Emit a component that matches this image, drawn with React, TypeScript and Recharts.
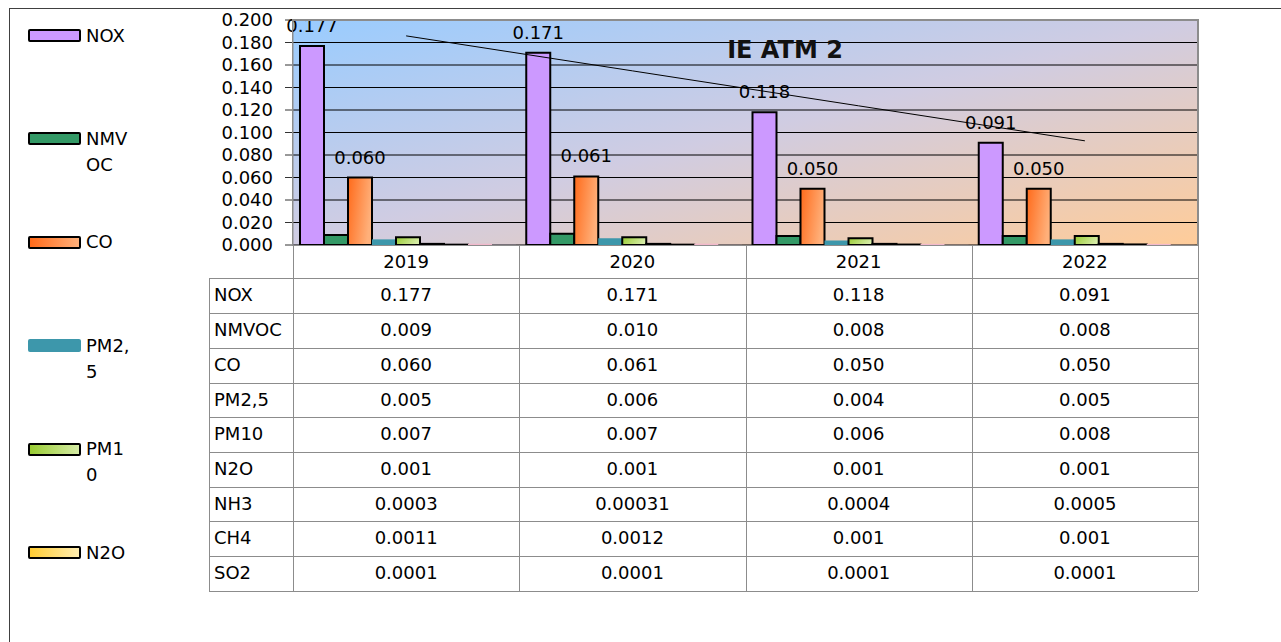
import { ComposedChart, Bar, Line, XAxis, YAxis, CartesianGrid, LabelList } from 'recharts';

// values
const years = ['2019', '2020', '2021', '2022'];
const nox = [0.177, 0.171, 0.118, 0.091];
const nmvoc = [0.009, 0.01, 0.008, 0.008];
const co = [0.06, 0.061, 0.05, 0.05];
const pm25 = [0.005, 0.006, 0.004, 0.005];
const pm10 = [0.007, 0.007, 0.006, 0.008];
const n2o = [0.001, 0.001, 0.001, 0.001];
const nh3 = [0.0003, 0.00031, 0.0004, 0.0005];
const ch4 = [0.0011, 0.0012, 0.001, 0.001];
const so2 = [0.0001, 0.0001, 0.0001, 0.0001];

const yTicks = [0, 0.02, 0.04, 0.06, 0.08, 0.1, 0.12, 0.14, 0.16, 0.18, 0.2];

// name, values, fixed decimals in the table (null = general format)
const rows: { name: string; values: number[]; fixed: number | null }[] = [
  { name: 'NOX', values: nox, fixed: 3 },
  { name: 'NMVOC', values: nmvoc, fixed: 3 },
  { name: 'CO', values: co, fixed: 3 },
  { name: 'PM2,5', values: pm25, fixed: 3 },
  { name: 'PM10', values: pm10, fixed: 3 },
  { name: 'N2O', values: n2o, fixed: 3 },
  { name: 'NH3', values: nh3, fixed: null },
  { name: 'CH4', values: ch4, fixed: null },
  { name: 'SO2', values: so2, fixed: null },
];

const legendNames = ['NOX', 'NMVOC', 'CO', 'PM2,5', 'PM10', 'N2O'];

const styles: Record<string, { fill: string; stroke?: string; swatch: string }> = {
  NOX: { fill: '#CC99FF', stroke: '#000', swatch: '#CC99FF' },
  NMVOC: { fill: '#339966', stroke: '#000', swatch: '#339966' },
  CO: { fill: 'url(#gCO)', stroke: '#000', swatch: 'linear-gradient(90deg,#FF6A1A,#FFB07A)' },
  'PM2,5': { fill: '#3D97AB', swatch: '#3D97AB' },
  PM10: { fill: 'url(#gPM10)', stroke: '#000', swatch: 'linear-gradient(90deg,#99CC33,#D6ECA6)' },
  N2O: { fill: 'url(#gN2O)', stroke: '#000', swatch: 'linear-gradient(90deg,#FFCC33,#FFEDB0)' },
  NH3: { fill: '#993366', stroke: '#000', swatch: '#993366' },
  CH4: { fill: '#F2B8CC', swatch: '#F2B8CC' },
  SO2: { fill: '#CCCCFF', swatch: '#CCCCFF' },
};

// least squares trend of NOX, like the spreadsheet trendline
function linearTrend(vals: number[]) {
  const n = vals.length;
  const mx = (n + 1) / 2;
  const my = vals.reduce((a, b) => a + b, 0) / n;
  let num = 0;
  let den = 0;
  vals.forEach((v, i) => {
    num += (i + 1 - mx) * (v - my);
    den += (i + 1 - mx) ** 2;
  });
  const slope = num / den;
  return vals.map((_, i) => my + slope * (i + 1 - mx));
}

const trend = linearTrend(nox);

const data = years.map((year, i) => {
  const d: Record<string, number | string> = { year, trend: trend[i] };
  rows.forEach((r) => (d[r.name] = r.values[i]));
  return d;
});

const fmt = (v: number, fixed: number | null) => (fixed === null ? String(v) : v.toFixed(fixed));

const FONT = '"DejaVu Sans", Verdana, sans-serif';
const W = 1281;
const H = 642;
const PLOT_L = 293;
const PLOT_R = 1198;
const PLOT_T = 20;
const PLOT_B = 245;
const TABLE_L = 209;
const HEAD_B = 278.3;
const ROW_H = 34.74;
const GRID = '#8c8c8c';

function DataTable() {
  const colW = (PLOT_R - PLOT_L) / years.length;
  const bottom = HEAD_B + rows.length * ROW_H;
  const lines: JSX.Element[] = [];
  for (let r = 0; r <= rows.length; r++) {
    const y = HEAD_B + r * ROW_H;
    lines.push(
      <div key={'h' + r} style={{ position: 'absolute', left: TABLE_L, top: y, width: PLOT_R - TABLE_L, height: 1, background: GRID }} />
    );
  }
  lines.push(
    <div key="vl" style={{ position: 'absolute', left: TABLE_L, top: HEAD_B, width: 1, height: bottom - HEAD_B, background: GRID }} />
  );
  for (let c = 0; c <= years.length; c++) {
    lines.push(
      <div key={'v' + c} style={{ position: 'absolute', left: PLOT_L + c * colW, top: PLOT_B, width: 1, height: bottom - PLOT_B, background: GRID }} />
    );
  }
  const cell = (left: number, top: number, width: number, height: number, align: 'left' | 'center') => ({
    position: 'absolute' as const,
    left,
    top,
    width,
    height,
    lineHeight: height + 'px',
    textAlign: align,
    fontSize: 18,
    color: '#000',
    paddingLeft: align === 'left' ? 5 : 0,
    boxSizing: 'border-box' as const,
    whiteSpace: 'nowrap' as const,
  });
  return (
    <>
      {lines}
      {years.map((y, c) => (
        <div key={'y' + y} style={cell(PLOT_L + c * colW, PLOT_B, colW, HEAD_B - PLOT_B, 'center')}>
          {y}
        </div>
      ))}
      {rows.map((r, ri) => (
        <div key={'r' + r.name}>
          <div style={cell(TABLE_L, HEAD_B + ri * ROW_H, PLOT_L - TABLE_L, ROW_H, 'left')}>{r.name}</div>
          {r.values.map((v, c) => (
            <div key={c} style={cell(PLOT_L + c * colW, HEAD_B + ri * ROW_H, colW, ROW_H, 'center')}>
              {fmt(v, r.fixed)}
            </div>
          ))}
        </div>
      ))}
    </>
  );
}

function SideLegend() {
  const lh = 26;
  return (
    <>
      {legendNames.map((name, i) => {
        const cy = 35.5 + i * 103.4;
        const st = styles[name];
        return (
          <div key={name}>
            <div
              style={{
                position: 'absolute',
                left: 28,
                top: cy - 6.5,
                width: 53,
                height: 13,
                background: st.swatch,
                border: st.stroke ? '2px solid #000' : 'none',
                borderRadius: 2,
                boxSizing: 'border-box',
              }}
            />
            <div
              style={{
                position: 'absolute',
                left: 86,
                top: cy - lh / 2,
                width: 46,
                fontSize: 18,
                lineHeight: lh + 'px',
                wordBreak: 'break-all',
                color: '#000',
              }}
            >
              {name}
            </div>
          </div>
        );
      })}
    </>
  );
}

export default function App() {
  return (
    <div style={{ position: 'absolute', left: 0, top: 0, width: W, height: H, overflow: 'hidden', background: '#fff', fontFamily: FONT }}>
      <div style={{ position: 'absolute', left: 9, top: 8, width: W, height: H, borderLeft: '1px solid #404040', borderTop: '1px solid #404040' }} />
      <SideLegend />
      <DataTable />
      <ComposedChart
        width={W}
        height={H}
        data={data}
        margin={{ top: PLOT_T, right: W - PLOT_R, bottom: H - PLOT_B, left: 0 }}
        barCategoryGap={7}
        barGap={0}
        style={{ position: 'absolute', left: 0, top: 0 }}
      >
        <defs>
          <linearGradient id="gBg" x1="0" y1="0" x2="1" y2="1">
            <stop offset="0%" stopColor="#99CCFF" />
            <stop offset="50%" stopColor="#D0CCE2" />
            <stop offset="100%" stopColor="#FFCC99" />
          </linearGradient>
          <linearGradient id="gCO" x1="0" y1="0" x2="1" y2="0.3">
            <stop offset="0%" stopColor="#FF6A1A" />
            <stop offset="100%" stopColor="#FFB07A" />
          </linearGradient>
          <linearGradient id="gPM10" x1="0" y1="0" x2="1" y2="0.3">
            <stop offset="0%" stopColor="#99CC33" />
            <stop offset="100%" stopColor="#D6ECA6" />
          </linearGradient>
          <linearGradient id="gN2O" x1="0" y1="0" x2="1" y2="0.3">
            <stop offset="0%" stopColor="#FFCC33" />
            <stop offset="100%" stopColor="#FFEDB0" />
          </linearGradient>
        </defs>
        <CartesianGrid horizontal vertical={false} stroke="#000" fill="url(#gBg)" fillOpacity={1} />
        <XAxis dataKey="year" hide />
        <YAxis
          width={PLOT_L}
          domain={[0, 0.2]}
          ticks={yTicks}
          interval={0}
          tickFormatter={(v: number) => v.toFixed(3)}
          tick={{ fill: '#000', fontSize: 18 }}
          tickSize={8}
          tickMargin={12}
          tickLine={{ stroke: '#333' }}
          axisLine={{ stroke: '#8c8c8c', strokeWidth: 1 }}
        />
        {rows.map((r) => (
          <Bar
            key={r.name}
            dataKey={r.name}
            fill={styles[r.name].fill}
            stroke={styles[r.name].stroke}
            strokeWidth={styles[r.name].stroke ? 2 : 0}
            isAnimationActive={false}
          >
            {(r.name === 'NOX' || r.name === 'CO') && (
              <LabelList
                dataKey={r.name}
                position="top"
                offset={14}
                formatter={(v: any) => Number(v).toFixed(3)}
                fill="#000"
                fontSize={18}
              />
            )}
          </Bar>
        ))}
        <Line dataKey="trend" type="linear" stroke="#000" strokeWidth={1} dot={false} activeDot={false} isAnimationActive={false} />
      </ComposedChart>
      <div
        style={{
          position: 'absolute',
          left: PLOT_L - 1,
          top: PLOT_T - 1,
          width: PLOT_R - PLOT_L + 2,
          height: PLOT_B - PLOT_T + 2,
          border: '2px solid #8c8c8c',
          borderLeftWidth: 1,
          borderBottomWidth: 1,
          boxSizing: 'border-box',
          pointerEvents: 'none',
        }}
      />
      <div style={{ position: 'absolute', left: 685, top: 35, width: 200, textAlign: 'center', fontSize: 24, fontWeight: 'bold', lineHeight: '30px', color: '#111' }}>
        IE ATM 2
      </div>
    </div>
  );
}
